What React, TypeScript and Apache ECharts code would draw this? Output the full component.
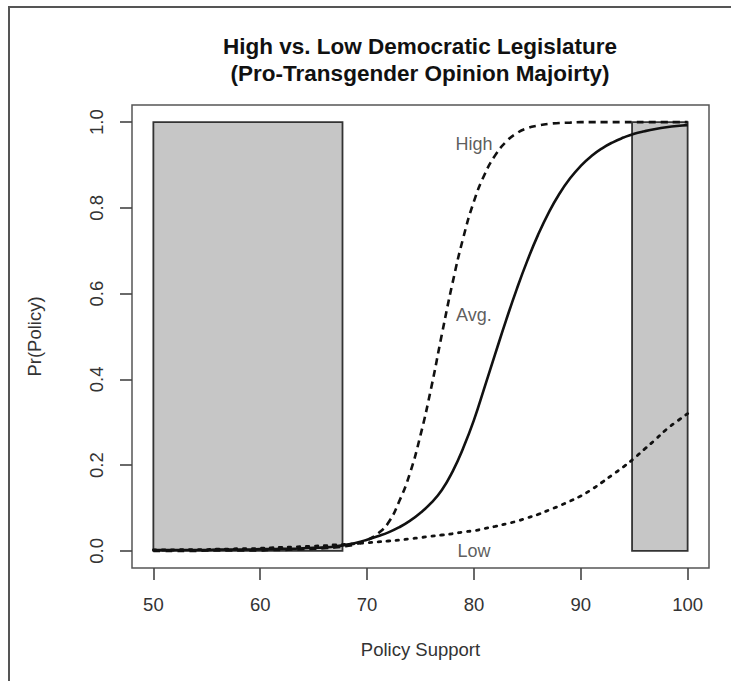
import React, { useEffect, useRef } from "react";
import * as echarts from "echarts";

const xValues = [50,51,52,53,54,55,56,57,58,59,60,61,62,63,64,65,66,67,68,69,70,71,72,73,74,75,76,77,78,79,80,81,82,83,84,85,86,87,88,89,90,91,92,93,94,95,96,97,98,99,100];
const highValues = [0,0,0,0,0,0.001,0.001,0.001,0.001,0.001,0.001,0.002,0.002,0.003,0.004,0.005,0.006,0.008,0.011,0.016,0.025,0.04,0.066,0.115,0.18,0.27,0.38,0.505,0.625,0.73,0.815,0.878,0.923,0.954,0.974,0.986,0.992,0.996,0.998,0.999,1,1,1,1,1,1,1,1,1,1,1];
const avgValues = [0.002,0.002,0.002,0.002,0.002,0.002,0.003,0.003,0.003,0.003,0.004,0.004,0.005,0.005,0.006,0.007,0.008,0.01,0.014,0.019,0.026,0.034,0.043,0.055,0.07,0.089,0.112,0.142,0.185,0.24,0.305,0.382,0.46,0.537,0.61,0.677,0.737,0.789,0.833,0.869,0.898,0.921,0.939,0.953,0.964,0.973,0.979,0.984,0.988,0.991,0.993];
const lowValues = [0.002,0.002,0.002,0.003,0.003,0.003,0.004,0.004,0.005,0.005,0.006,0.007,0.008,0.009,0.01,0.011,0.012,0.014,0.015,0.017,0.019,0.021,0.023,0.025,0.028,0.031,0.034,0.037,0.04,0.044,0.047,0.052,0.057,0.063,0.069,0.077,0.085,0.095,0.105,0.116,0.128,0.143,0.16,0.178,0.196,0.216,0.238,0.26,0.283,0.302,0.32];

// shaded regions: [xStart, xEnd, yBottom, yTop]
const regions = [
  [50, 67.7, 0, 1],
  [94.8, 100, 0, 1],
];

const xTicks = [50, 60, 70, 80, 90, 100];
const yTicks = [0, 0.2, 0.4, 0.6, 0.8, 1.0];

// curve labels: [x, y, text]
const curveLabels: [number, number, string][] = [
  [80, 0.95, "High"],
  [80, 0.55, "Avg."],
  [80, 0.0, "Low"],
];

const FONT = "'Liberation Sans', Arial, Helvetica, sans-serif";

export default function App() {
  const ref = useRef<HTMLDivElement>(null);
  useEffect(() => {
    if (!ref.current) return;
    const chart = echarts.init(ref.current, null, { renderer: "svg" });
    const pair = (ys: number[]) => xValues.map((x, i) => [x, ys[i]]);
    chart.setOption({
      animation: false,
      backgroundColor: "#ffffff",
      textStyle: { fontFamily: FONT },
      title: {
        text: "High vs. Low Democratic Legislature\n(Pro-Transgender Opinion Majoirty)",
        left: 420,
        top: 33,
        padding: 0,
        textAlign: "center",
        textStyle: {
          fontFamily: FONT,
          fontWeight: "bold",
          fontSize: 22.5,
          lineHeight: 27,
          color: "#111",
        },
      },
      grid: {
        left: 132,
        right: 22,
        top: 105,
        bottom: 113,
        show: true,
        borderColor: "#555",
        borderWidth: 1.5,
        backgroundColor: "transparent",
      },
      xAxis: {
        type: "value",
        min: 48,
        max: 102,
        name: "Policy Support",
        nameLocation: "middle",
        nameGap: 72,
        nameTextStyle: { fontFamily: FONT, fontSize: 18.5, color: "#333" },
        axisLine: { show: false, onZero: false },
        splitLine: { show: false },
        axisTick: {
          show: true,
          length: 12,
          customValues: xTicks,
          lineStyle: { color: "#444", width: 1.6 },
        },
        axisLabel: {
          customValues: xTicks,
          margin: 27,
          fontFamily: FONT,
          fontSize: 18.5,
          color: "#333",
        },
      },
      yAxis: {
        type: "value",
        min: -0.04,
        max: 1.04,
        name: "Pr(Policy)",
        nameLocation: "middle",
        nameGap: 88,
        nameTextStyle: { fontFamily: FONT, fontSize: 18.5, color: "#333" },
        axisLine: { show: false, onZero: false },
        splitLine: { show: false },
        axisTick: {
          show: true,
          length: 12,
          customValues: yTicks,
          lineStyle: { color: "#444", width: 1.6 },
        },
        axisLabel: {
          customValues: yTicks,
          rotate: 90,
          margin: 26,
          fontFamily: FONT,
          fontSize: 18.5,
          color: "#333",
          formatter: (v: number) => v.toFixed(1),
        },
      },
      series: [
        {
          type: "custom",
          z: 1,
          data: regions,
          renderItem: (params: any, api: any) => {
            const p0 = api.coord([api.value(0), api.value(3)]);
            const p1 = api.coord([api.value(1), api.value(2)]);
            return {
              type: "rect",
              shape: { x: p0[0], y: p0[1], width: p1[0] - p0[0], height: p1[1] - p0[1] },
              style: { fill: "#c6c6c6", stroke: "#333", lineWidth: 1.8 },
            };
          },
        },
        {
          type: "line",
          name: "High",
          z: 3,
          data: pair(highValues),
          showSymbol: false,
          smooth: true,
          lineStyle: { color: "#111", width: 2.6, type: [7, 5] },
        },
        {
          type: "line",
          name: "Avg.",
          z: 3,
          data: pair(avgValues),
          showSymbol: false,
          smooth: true,
          lineStyle: { color: "#111", width: 2.6 },
        },
        {
          type: "line",
          name: "Low",
          z: 3,
          data: pair(lowValues),
          showSymbol: false,
          smooth: true,
          lineStyle: { color: "#111", width: 2.8, type: [2.5, 6.5], cap: "round" },
        },
        {
          type: "scatter",
          z: 4,
          symbolSize: 0,
          data: curveLabels.map((d) => ({ value: [d[0], d[1]], name: d[2] })),
          label: {
            show: true,
            position: "inside",
            formatter: (p: any) => p.name,
            fontFamily: FONT,
            fontSize: 18,
            color: "#333",
          },
        },
      ],
      graphic: [
        { type: "line", shape: { x1: 8, y1: 7, x2: 731, y2: 7 }, style: { stroke: "#555", lineWidth: 2 } },
        { type: "line", shape: { x1: 9, y1: 7, x2: 9, y2: 681 }, style: { stroke: "#555", lineWidth: 2 } },
      ],
    });
    return () => chart.dispose();
  }, []);
  return (
    <div
      ref={ref}
      style={{ position: "absolute", left: 0, top: 0, width: 731, height: 681 }}
    />
  );
}
